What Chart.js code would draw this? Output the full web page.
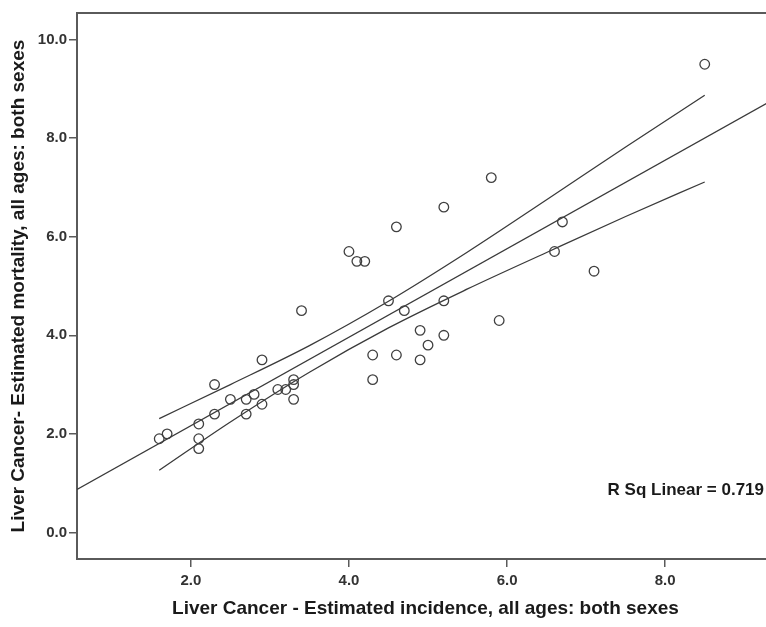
<!DOCTYPE html>
<html>
<head>
<meta charset="utf-8">
<script src="https://cdn.jsdelivr.net/npm/chart.js@4.4.1/dist/chart.umd.min.js"></script>
<style>
	html, body { margin: 0; padding: 0; background: #fff; overflow: hidden; }
	#wrap { width: 780px; height: 627px; }
</style>
</head>
<body>
<div id="wrap"><canvas id="ScatterCanvas" width="780" height="627"></canvas></div>
<script>
// incidence (x) and mortality (y)
var incidence = [8.5, 5.8, 5.2, 4.6, 4.0, 4.1, 4.2, 3.4, 6.7, 6.6, 7.1, 5.9, 4.5, 4.7, 5.2, 5.2, 4.9, 5.0, 4.9, 4.6,
	4.3, 4.3, 2.9, 2.3, 3.3, 3.3, 3.2, 3.1, 3.3, 2.8, 2.7, 2.5, 2.9, 2.7, 2.3, 2.1, 2.1, 2.1, 1.7, 1.6];
var mortality = [9.5, 7.2, 6.6, 6.2, 5.7, 5.5, 5.5, 4.5, 6.3, 5.7, 5.3, 4.3, 4.7, 4.5, 4.7, 4.0, 4.1, 3.8, 3.5, 3.6,
	3.6, 3.1, 3.5, 3.0, 3.1, 3.0, 2.9, 2.9, 2.7, 2.8, 2.7, 2.7, 2.6, 2.4, 2.4, 2.2, 1.9, 1.7, 2.0, 1.9];

// fit line, ends at the plot edges
var fitX = [0.56, 9.375];
var fitY = [0.87, 8.79];

// mean confidence band
var bandX = [1.6, 2.5, 3.5, 4.5, 5.5, 6.5, 7.5, 8.5];
var bandUpper = [2.31, 3.00, 3.79, 4.69, 5.69, 6.75, 7.82, 8.87];
var bandLower = [1.26, 2.24, 3.25, 4.15, 4.94, 5.68, 6.41, 7.11];

var xTicks = [2, 4, 6, 8];
var yTicks = [0, 2, 4, 6, 8, 10];
var rSqText = "R Sq Linear = 0.719";
var xTitle = "Liver Cancer - Estimated incidence, all ages: both sexes";
var yTitle = "Liver Cancer- Estimated mortality, all ages: both sexes";

var Plot = {
	pairs: function(xs, ys) {
		var out = [];
		for(var i = 0; i < xs.length; i++) {
			out.push({x: xs[i], y: ys[i]});
		}
		return out;
	},
	lineSet: function(xs, ys) {
		return {
			data: Plot.pairs(xs, ys),
			showLine: true,
			pointRadius: 0,
			borderColor: '#3a3a3a',
			borderWidth: 1.3,
			cubicInterpolationMode: 'monotone',
			fill: false
		};
	},
	frame: {
		id: 'frame',
		afterDraw: function(chart) {
			var ctx = chart.ctx;
			var area = chart.chartArea;
			ctx.save();
			ctx.strokeStyle = '#5a5a5a';
			ctx.lineWidth = 2;
			ctx.beginPath();
			ctx.moveTo(area.left - 1, area.top);
			ctx.lineTo(area.right, area.top);
			ctx.stroke();
			ctx.fillStyle = '#1a1a1a';
			ctx.font = 'bold 17px "Liberation Sans", Arial, sans-serif';
			ctx.textAlign = 'right';
			ctx.textBaseline = 'middle';
			ctx.fillText(rSqText, 764, 490);
			ctx.restore();
		}
	},
	draw: function() {
		var ctx = document.getElementById("ScatterCanvas").getContext('2d');
		var tickFont = { family: '"Liberation Sans", Arial, sans-serif', size: 15, weight: 'bold' };
		var titleFont = { family: '"Liberation Sans", Arial, sans-serif', size: 19, weight: 'bold' };
		window.myScatter = new Chart(ctx, {
			type: 'scatter',
			data: {
				datasets: [
					{
						data: Plot.pairs(incidence, mortality),
						pointRadius: 4.8,
						pointBorderWidth: 1.3,
						pointBorderColor: '#404040',
						pointBackgroundColor: 'rgba(255,255,255,0)'
					},
					Plot.lineSet(fitX, fitY),
					Plot.lineSet(bandX, bandUpper),
					Plot.lineSet(bandX, bandLower)
				]
			},
			options: {
				responsive: false,
				animation: false,
				layout: { padding: { top: 13, right: 0, left: 0, bottom: 0 } },
				plugins: { legend: { display: false }, tooltip: { enabled: false } },
				scales: {
					x: {
						type: 'linear',
						min: 0.56,
						max: 9.375,
						afterBuildTicks: function(scale) {
							scale.ticks = xTicks.map(function(v) { return {value: v}; });
						},
						afterFit: function(scale) { scale.height = 68; },
						ticks: {
							font: tickFont,
							color: '#333',
							padding: 5,
							maxRotation: 0,
							callback: function(v) { return v.toFixed(1); }
						},
						grid: { drawOnChartArea: false, drawTicks: true, tickLength: 8, color: '#5a5a5a', lineWidth: 1.5 },
						border: { display: true, color: '#5a5a5a', width: 2 },
						title: { display: true, text: xTitle, font: titleFont, color: '#1a1a1a', padding: { top: 2, bottom: 7 } }
					},
					y: {
						type: 'linear',
						min: -0.54,
						max: 10.54,
						afterBuildTicks: function(scale) {
							scale.ticks = yTicks.map(function(v) { return {value: v}; });
						},
						afterFit: function(scale) { scale.width = 77; },
						ticks: {
							font: tickFont,
							color: '#333',
							padding: 2,
							callback: function(v) { return v.toFixed(1); }
						},
						grid: { drawOnChartArea: false, drawTicks: true, tickLength: 8, color: '#5a5a5a', lineWidth: 1.5 },
						border: { display: true, color: '#5a5a5a', width: 2 },
						title: { display: true, text: yTitle, font: titleFont, color: '#1a1a1a', padding: { top: 7, bottom: 0 } }
					}
				}
			},
			plugins: [Plot.frame]
		});
	}
};

Plot.draw();
</script>
</body>
</html>
